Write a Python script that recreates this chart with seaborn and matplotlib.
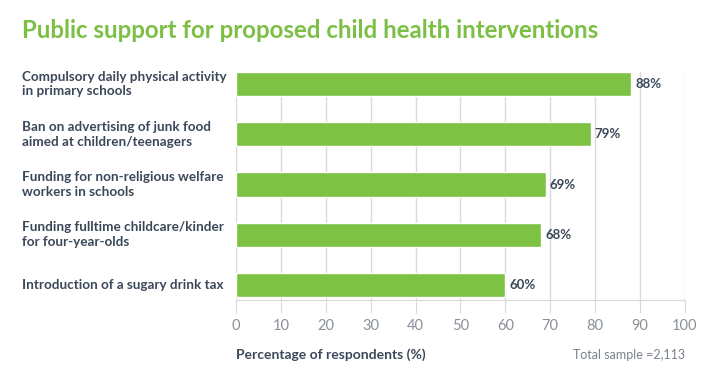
import seaborn as sns
import pandas as pd
import matplotlib.pyplot as plt

interventions = [
    "Compulsory daily physical activity\nin primary schools",
    "Ban on advertising of junk food\naimed at children/teenagers",
    "Funding for non-religious welfare\nworkers in schools",
    "Funding fulltime childcare/kinder\nfor four-year-olds",
    "Introduction of a sugary drink tax",
]
support = [88, 79, 69, 68, 60]
x_ticks = [0, 10, 20, 30, 40, 50, 60, 70, 80, 90, 100]

GREEN = "#7dc242"
DARK = "#3b4859"
GRID = "#d9d9d9"

sns.set_style("white")
plt.rcParams['font.family'] = ['Lato', 'DejaVu Sans']

df = pd.DataFrame({"intervention": interventions, "support": support})

fig = plt.figure(figsize=(7.2, 3.76), dpi=100)
ax = fig.add_axes([0.328, 0.202, 0.623, 0.6065])

sns.barplot(data=df, y="intervention", x="support", orient="h",
            color=GREEN, saturation=1, width=0.48, ax=ax, zorder=3)

ax.set_xlim(0, 100)
ax.set_ylim(4.3, -0.24)
ax.set_xticks(x_ticks)
ax.xaxis.grid(True, color=GRID, lw=1, zorder=0)
ax.set_axisbelow(True)
for s in ["top", "right", "left"]:
    ax.spines[s].set_visible(False)
ax.spines["bottom"].set_color(GRID)
ax.tick_params(axis="x", length=9, color=GRID, labelsize=10.5,
               labelcolor="#8a9099", pad=5, bottom=True)
ax.tick_params(axis="y", length=0, pad=0)
ax.set_ylabel("")
ax.set_xlabel("")

# y labels left aligned at the figure edge
ax.set_yticklabels([])
for i, lab in enumerate(interventions):
    ax.annotate(lab, xy=(0, i), xycoords=("figure fraction", "data"),
                xytext=(22 / 720, 0), textcoords=("figure fraction", "offset points"),
                ha="left", va="center", fontsize=9.7, fontweight="bold",
                color=DARK, linespacing=1.25)

for i, v in enumerate(support):
    ax.annotate(f"{v}%", xy=(v, i), xytext=(3, 0), textcoords="offset points",
                ha="left", va="center", fontsize=9.5, fontweight="bold", color=DARK)

fig.text(22 / 720, 1 - 31 / 376, "Public support for proposed child health interventions",
         ha="left", va="center", fontsize=17.3, fontweight="bold", color="#7cbf45")
fig.text(236 / 720, 1 - 355 / 376, "Percentage of respondents (%)",
         ha="left", va="center", fontsize=10, fontweight="bold", color=DARK)
fig.text(685 / 720, 1 - 355 / 376, "Total sample =2,113",
         ha="right", va="center", fontsize=9, color="#7a828c")

fig.savefig("out.png", dpi=100)
